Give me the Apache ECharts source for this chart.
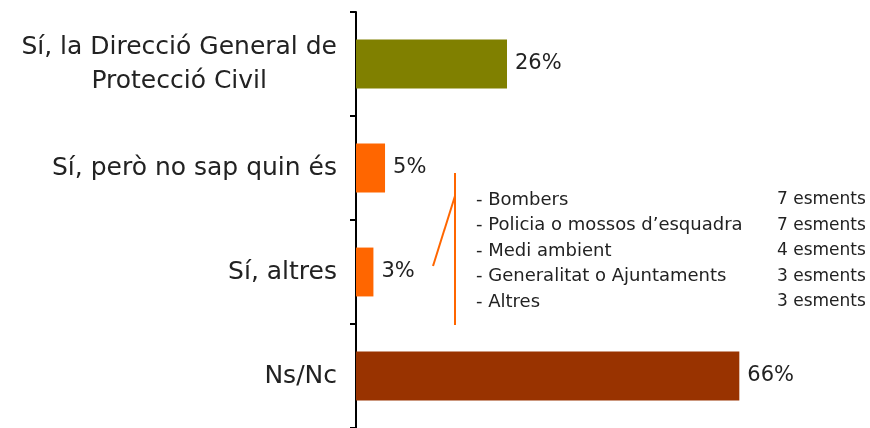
<!DOCTYPE html>
<html><head><meta charset="utf-8">
<script src="https://cdn.jsdelivr.net/npm/echarts@6/dist/echarts.min.js"></script>
<style>html,body{margin:0;padding:0;background:#fff}#c{width:870px;height:428px}</style>
</head><body><div id="c"></div>
<script>
const categories = ['Sí, la Direcció General de\nProtecció Civil', 'Sí, però no sap quin és', 'Sí, altres', 'Ns/Nc'];
const values = [26, 5, 3, 66];
const barColors = ['#808000', '#FF6600', '#FF6600', '#993300'];
const detailItems = ['- Bombers', '- Policia o mossos d’esquadra', '- Medi ambient', '- Generalitat o Ajuntaments', '- Altres'];
const detailCounts = ['7 esments', '7 esments', '4 esments', '3 esments', '3 esments'];

const FONT = 'DejaVu Sans';
const chart = echarts.init(document.getElementById('c'));
const graphics = [
  {type:'line', shape:{x1:455,y1:173,x2:455,y2:325}, style:{stroke:'#FF6600', lineWidth:2}},
  {type:'line', shape:{x1:433,y1:266,x2:455,y2:196}, style:{stroke:'#FF6600', lineWidth:2}}
];
detailItems.forEach((t,i)=>{
  graphics.push({type:'text', x:476, y:200+i*25.5, style:{text:t, font:'18px "'+FONT+'"', fill:'#222', textVerticalAlign:'middle'}});
  graphics.push({type:'text', x:777, y:200+i*25.5, style:{text:detailCounts[i], font:'17px "'+FONT+'"', fill:'#222', textVerticalAlign:'middle'}});
});
chart.setOption({
  animation:false,
  grid:{left:356, top:12, right:0, bottom:0},
  xAxis:{type:'value', min:0, max:88.5, show:false},
  yAxis:{type:'category', inverse:true, data:categories,
    axisLine:{show:true, lineStyle:{color:'#000', width:2}},
    axisTick:{show:true, length:6, lineStyle:{color:'#000', width:2}},
    axisLabel:{fontFamily:FONT, fontSize:25, color:'#222', margin:19,
      formatter: v => v.split('\n').map(s => '{c|' + s + '}').join('\n'),
      rich:{c:{fontFamily:FONT, fontSize:25, color:'#222', align:'center', lineHeight:34}}
    }
  },
  series:[{type:'bar', data:values.map((v,i)=>({value:v, itemStyle:{color:barColors[i]}})),
    barCategoryGap:'53%',
    label:{show:true, position:'right', distance:8, formatter:'{c}%', fontFamily:FONT, fontSize:21, color:'#222'}
  }],
  graphic:graphics
});
</script></body></html>
